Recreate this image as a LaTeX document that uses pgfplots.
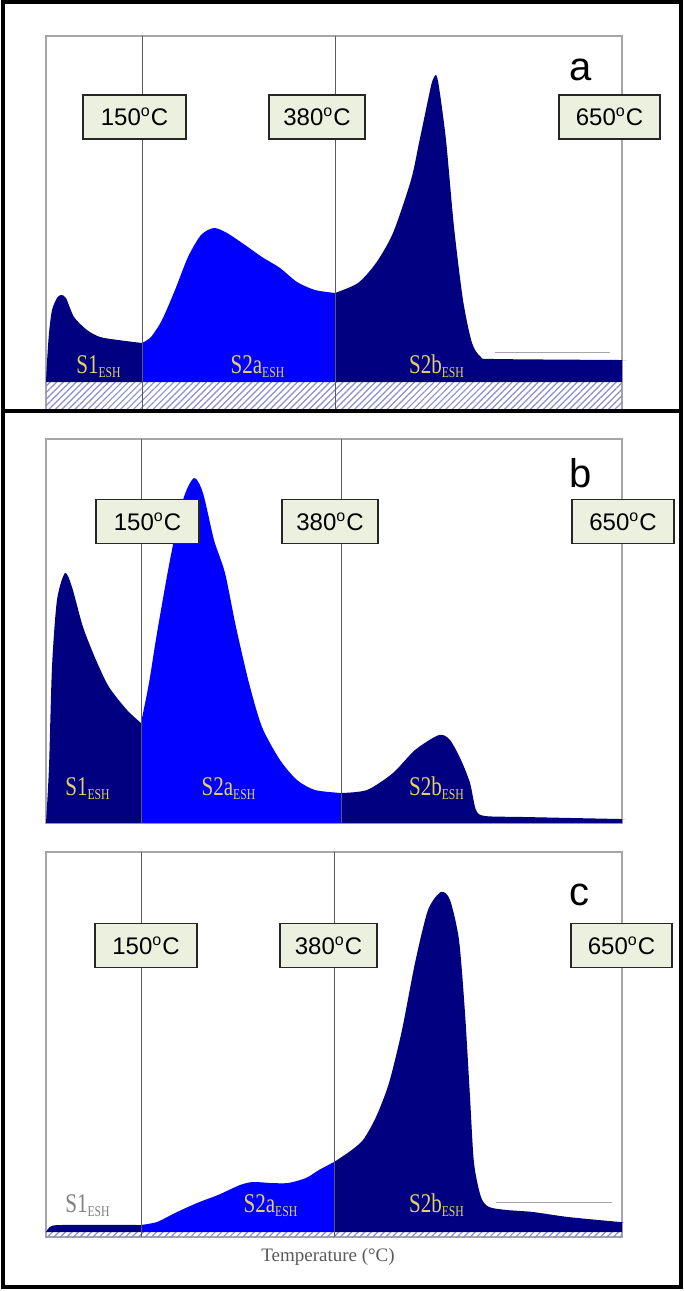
\documentclass[border=0pt]{standalone}
\usepackage{pgfplots}
\pgfplotsset{compat=1.18}
\usepackage{fontspec}
\setmainfont{Liberation Serif}
\newfontfamily\arial{Liberation Sans}
\newfontfamily\narrowserif[FakeStretch=0.78]{Liberation Serif}
\usetikzlibrary{patterns.meta}
\definecolor{navyc}{RGB}{0,0,128}
\definecolor{bluec}{RGB}{0,0,255}
\definecolor{boxc}{RGB}{236,240,222}
\definecolor{labc}{RGB}{226,208,104}
\definecolor{hatchc}{RGB}{140,140,208}
\definecolor{vline}{RGB}{90,90,90}
\pgfplotsset{panel/.style={x=0.5pt,y=0.5pt,xmin=0,xmax=576,
  axis line style={draw=gray!70,line width=0.6pt},
  xtick=\empty,ytick=\empty,clip=false,anchor=south west},
  seg/.style={fill=#1,draw=none,smooth,tension=0.45}}
\tikzset{tbox/.style={draw=black!85,line width=0.9pt,fill=boxc,minimum height=22pt,inner sep=0pt,
  font=\arial\fontsize{12}{14}\selectfont},
  slab/.style={text=labc,font=\narrowserif\fontsize{13.5}{15}\selectfont,inner sep=0pt,anchor=base},
  plet/.style={font=\arial\fontsize{20}{22}\selectfont,inner sep=0pt,anchor=base}}
\newcommand{\esh}[1]{#1\textsubscript{\fontsize{7.5}{8}\selectfont ESH}}
\newcommand{\degc}[1]{#1\textsuperscript{\fontsize{8}{9}\selectfont o}C}
\begin{document}
\begin{tikzpicture}
\useasboundingbox (0,0) rectangle (342.5pt,-645.5pt);
% ---------- panel a ----------
\begin{axis}[panel,ymin=-28,ymax=346,at={(23pt,-205pt)}]
\fill[pattern={Lines[angle=45,distance=2.3pt,line width=0.6pt]},pattern color=hatchc] (axis cs:0,-28) rectangle (axis cs:576,0);
\addplot[seg=navyc] coordinates {(0,0)(1,20)(3,49)(6,72)(11,84)(15,87)(20,84)(28,65)(41,52)(54,45)(72,42)(96,39)} \closedcycle;
\addplot[seg=bluec] coordinates {(96,39)(105,45)(116,62)(129,92)(142,125)(155,147)(168,154)(181,149)(199,137)(216,125)(234,114)(251,100)(269,92)(289,89)} \closedcycle;
\addplot[seg=navyc] coordinates {(289,89)(312,99)(330,119)(347,149)(365,202)(373,239)(382,282)(386,300)(390,307)(393,295)(400,242)(408,155)(417,82)(426,39)(435,25)(448,23)(574,22)(576,22)} \closedcycle;
\draw[vline,line width=0.5pt] (axis cs:96,-28) -- (axis cs:96,346);
\draw[vline,line width=0.5pt] (axis cs:289,-28) -- (axis cs:289,346);
\draw[gray!70,line width=0.5pt] (axis cs:449,30) -- (axis cs:564,30);
\node[tbox,minimum width=51.5pt] at (axis cs:88.5,265) {\degc{150}};
\node[tbox,minimum width=48pt] at (axis cs:271,265) {\degc{380}};
\node[tbox,minimum width=50.5pt] at (axis cs:563.5,265) {\degc{650}};
\node[plet] at (axis cs:535,302) {a};
\node[slab] at (axis cs:53,9) {\esh{S1}};
\node[slab] at (axis cs:212,9) {\esh{S2a}};
\node[slab] at (axis cs:391,9) {\esh{S2b}};
\end{axis}
% ---------- panel b ----------
\begin{axis}[panel,ymin=0,ymax=384,at={(23pt,-411.5pt)}]
\addplot[seg=navyc] coordinates {(0,0)(3,56)(6,156)(11,223)(19,250)(26,236)(37,196)(50,163)(63,136)(81,113)(95,100)} \closedcycle;
\addplot[seg=bluec] coordinates {(95,100)(103,140)(111,190)(124,263)(137,323)(148,345)(157,330)(168,283)(179,250)(190,196)(203,140)(216,96)(234,63)(251,43)(269,33)(295,30)} \closedcycle;
\addplot[seg=navyc] coordinates {(295,30)(321,33)(347,50)(369,73)(393,88)(404,83)(415,63)(424,40)(430,13)(439,7)(478,6)(574,4)(576,4)} \closedcycle;
\draw[vline,line width=0.5pt] (axis cs:95,0) -- (axis cs:95,384);
\draw[vline,line width=0.5pt] (axis cs:295,0) -- (axis cs:295,384);
\node[tbox,minimum width=51.5pt] at (axis cs:101.5,301.5) {\degc{150}};
\node[tbox,minimum width=48pt] at (axis cs:284,301.5) {\degc{380}};
\node[tbox,minimum width=51pt] at (axis cs:577,301.5) {\degc{650}};
\node[plet] at (axis cs:535,336) {b};
\node[slab] at (axis cs:42,28) {\esh{S1}};
\node[slab] at (axis cs:183,28) {\esh{S2a}};
\node[slab] at (axis cs:391,28) {\esh{S2b}};
\end{axis}
% ---------- panel c ----------
\begin{axis}[panel,ymin=-5,ymax=380,at={(23pt,-618.5pt)}]
\fill[pattern={Lines[angle=45,distance=2.3pt,line width=0.6pt]},pattern color=hatchc] (axis cs:0,-5) rectangle (axis cs:576,0);
\addplot[seg=navyc] coordinates {(0,0)(4,5)(15,7)(95,7)} \closedcycle;
\addplot[seg=bluec] coordinates {(95,7)(111,10)(129,19)(151,29)(172,37)(194,47)(207,50)(225,49)(242,49)(260,54)(273,62)(288,70)} \closedcycle;
\addplot[seg=navyc] coordinates {(288,70)(303,80)(317,92)(330,115)(343,149)(356,202)(369,269)(382,322)(395,340)(404,332)(413,292)(419,219)(424,135)(428,69)(435,35)(443,25)(461,22)(487,20)(522,15)(574,10)(576,10)} \closedcycle;
\draw[vline,line width=0.5pt] (axis cs:95,-5) -- (axis cs:95,380);
\draw[vline,line width=0.5pt] (axis cs:288,-5) -- (axis cs:288,380);
\draw[gray!70,line width=0.5pt] (axis cs:450,30) -- (axis cs:566,30);
\node[tbox,minimum width=51pt] at (axis cs:100,286.5) {\degc{150}};
\node[tbox,minimum width=48.5pt] at (axis cs:282.5,286.5) {\degc{380}};
\node[tbox,minimum width=50.5pt] at (axis cs:575.5,286.5) {\degc{650}};
\node[plet] at (axis cs:533,327) {c};
\node[slab,text=gray] at (axis cs:42,20) {\esh{S1}};
\node[slab] at (axis cs:225,20) {\esh{S2a}};
\node[slab] at (axis cs:391,20) {\esh{S2b}};
\node[anchor=base,inner sep=0pt,text=black!65,font=\fontsize{9.5}{11}\selectfont] at (axis cs:282,-29) {Temperature (°C)};
\end{axis}
% ---------- frames ----------
\draw[line width=2pt] (1.5pt,-1pt) rectangle (340.5pt,-643.5pt);
\draw[line width=2pt] (1.5pt,-205.5pt) -- (340.5pt,-205.5pt);
\end{tikzpicture}
\end{document}
